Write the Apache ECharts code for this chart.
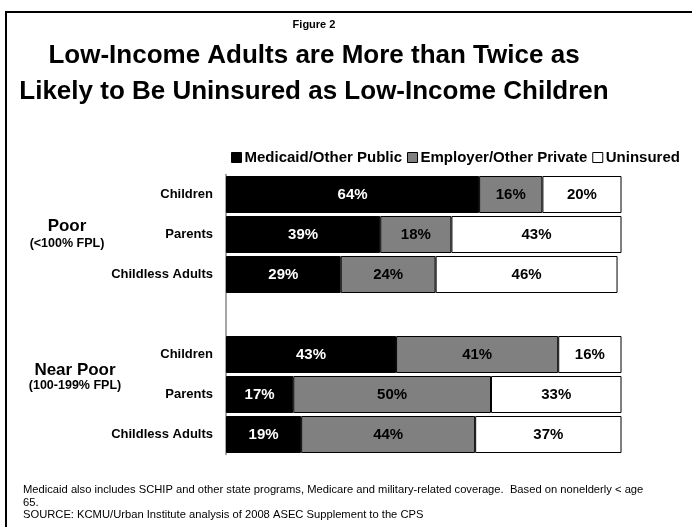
<!DOCTYPE html>
<html><head><meta charset="utf-8">
<script src="https://cdn.jsdelivr.net/npm/echarts@6/dist/echarts.min.js"></script>
<style>html,body{margin:0;padding:0;background:#fff}#c{width:692px;height:527px}</style>
</head><body><div id="c"></div>
<script>
const categories = ['Children', 'Parents', 'Childless Adults', '', 'Children', 'Parents', 'Childless Adults'];
const medicaid = [64, 39, 29, null, 43, 17, 19];
const employer = [16, 18, 24, null, 41, 50, 44];
const uninsured = [20, 43, 46, null, 16, 33, 37];
const seriesNames = ['Medicaid/Other Public', 'Employer/Other Private', 'Uninsured'];
const groupLabels = [['Poor', '(<100% FPL)'], ['Near Poor', '(100-199% FPL)']];
const FONT = '"Liberation Sans", Arial, sans-serif';

const chart = echarts.init(document.getElementById('c'), null, {renderer: 'canvas'});
function mk(name, data, color, labelColor) {
  return {
    name, type: 'bar', stack: 'all', data, barWidth: 37,
    itemStyle: {color, borderColor: '#000', borderWidth: 1},
    label: {show: true, position: 'inside', formatter: p => p.value == null ? '' : p.value + '%',
      color: labelColor, fontFamily: FONT, fontWeight: 'bold', fontSize: 15},
    emphasis: {disabled: true}
  };
}
chart.setOption({
  animation: false,
  backgroundColor: '#fff',
  title: [
    {text: 'Figure 2', left: 309, textAlign: 'center', top: 14,
     textStyle: {fontFamily: FONT, fontWeight: 'bold', fontSize: 11, color: '#000'}},
    {text: 'Low-Income Adults are More than Twice as\nLikely to Be Uninsured as Low-Income Children', left: 309, textAlign: 'center', top: 33,
     textStyle: {fontFamily: FONT, fontWeight: 'bold', fontSize: 26, lineHeight: 36, color: '#000'}},
    {text: 'Medicaid also includes SCHIP and other state programs, Medicare and military-related coverage.  Based on nonelderly < age\n65.\nSOURCE: KCMU/Urban Institute analysis of 2008 ASEC Supplement to the CPS', left: 18, top: 479,
     textStyle: {fontFamily: FONT, fontWeight: 'normal', fontSize: 11.2, lineHeight: 12.5, color: '#000'}}
  ],
  legend: {
    left: 226, top: 145, icon: 'rect', itemWidth: 10, itemHeight: 10, itemGap: 5,
    data: seriesNames.map(n => ({name: n, itemStyle: {borderColor: '#000', borderWidth: 1}})),
    textStyle: {fontFamily: FONT, fontWeight: 'bold', fontSize: 15, color: '#000', padding: [0, 0, 0, -2]}
  },
  grid: {left: 226, right: 70.5, top: 174.5, height: 280, containLabel: false},
  xAxis: {type: 'value', min: 0, max: 100, show: false},
  yAxis: {
    type: 'category', inverse: true, data: categories,
    axisLine: {show: true, lineStyle: {color: '#888', width: 1.5}},
    axisTick: {show: false},
    axisLabel: {margin: 13, color: '#000', fontFamily: FONT, fontWeight: 'bold', fontSize: 13}
  },
  series: [
    mk(seriesNames[0], medicaid, '#000000', '#fff'),
    mk(seriesNames[1], employer, '#808080', '#000'),
    mk(seriesNames[2], uninsured, '#ffffff', '#000')
  ],
  graphic: [
    {type: 'polyline', shape: {points: [[6, 527], [6, 12], [692, 12]]}, style: {stroke: '#000', lineWidth: 2, fill: null}},
    {type: 'text', x: 67, y: 226, style: {text: groupLabels[0][0], fontFamily: FONT, fontWeight: 'bold', fontSize: 17, fill: '#000', align: 'center', verticalAlign: 'middle'}},
    {type: 'text', x: 67, y: 244, style: {text: groupLabels[0][1], fontFamily: FONT, fontWeight: 'bold', fontSize: 12.5, fill: '#000', align: 'center', verticalAlign: 'middle'}},
    {type: 'text', x: 75, y: 370, style: {text: groupLabels[1][0], fontFamily: FONT, fontWeight: 'bold', fontSize: 17, fill: '#000', align: 'center', verticalAlign: 'middle'}},
    {type: 'text', x: 75, y: 386, style: {text: groupLabels[1][1], fontFamily: FONT, fontWeight: 'bold', fontSize: 12.5, fill: '#000', align: 'center', verticalAlign: 'middle'}}
  ]
});
</script></body></html>
